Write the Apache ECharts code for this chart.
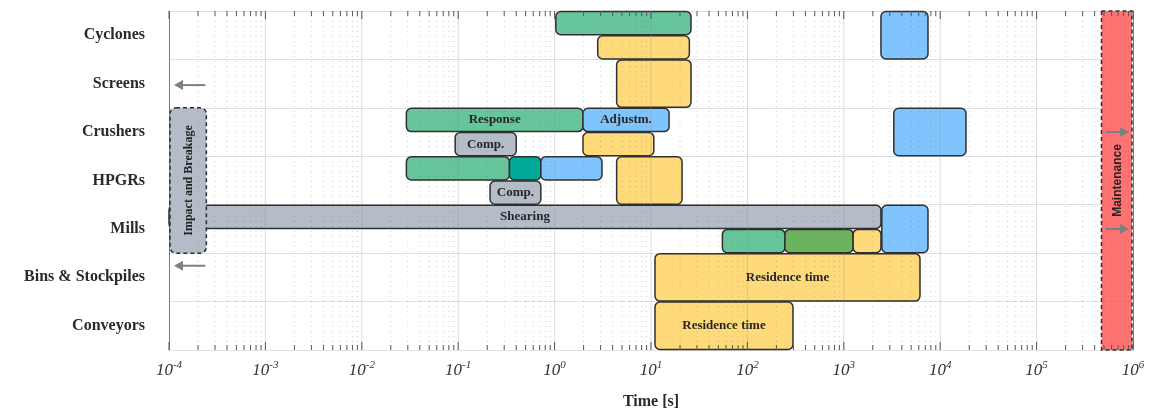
<!DOCTYPE html>
<html>
<head>
<meta charset="utf-8">
<script src="https://cdn.jsdelivr.net/npm/echarts@6/dist/echarts.min.js"></script>
<style>
  html, body { margin: 0; padding: 0; background: #fff; }
  #main { width: 1149px; height: 416px; }
</style>
</head>
<body>
<div id="main"></div>
<script>
var categories = ['Cyclones', 'Screens', 'Crushers', 'HPGRs', 'Mills', 'Bins & Stockpiles', 'Conveyors'];

// [category index, start (s), end (s), lane (0 = whole row, 1 = upper half, 2 = lower half), label]
var responseBars = [
    [0, 1.03, 26, 1, ''],
    [2, 0.029, 1.97, 1, 'Response'],
    [3, 0.029, 0.34, 1, ''],
    [4, 55, 245, 2, '']
];
var overlapBars = [
    [3, 0.34, 0.72, 1, '']
];
var processBars = [
    [4, 245, 1250, 2, '']
];
var adjustBars = [
    [0, 2430, 7470, 0, ''],
    [2, 1.97, 15.4, 1, 'Adjustm.'],
    [2, 3300, 18500, 0, ''],
    [3, 0.72, 3.1, 1, ''],
    [4, 2480, 7470, 0, '']
];
var residenceBars = [
    [0, 2.8, 25, 2, ''],
    [1, 4.4, 26, 0, ''],
    [2, 1.97, 10.7, 2, ''],
    [3, 4.4, 21, 0, ''],
    [4, 1250, 2430, 2, ''],
    [5, 11, 6170, 0, 'Residence time'],
    [6, 11, 297, 0, 'Residence time']
];
var breakageBars = [
    [2, 0.093, 0.40, 2, 'Comp.'],
    [3, 0.214, 0.72, 2, 'Comp.'],
    [4, 1e-4, 2430, 1, 'Shearing']
];
// [first category, last category, start (s), end (s), label]
var impactZone = [[2, 4, 1e-4, 2.5e-4, 'Impact and Breakage']];
var maintenanceZone = [[0, 6, 4.6e5, 1e6, 'Maintenance']];

var xMin = 1e-4, xMax = 1e6;

// grid positions of the log axis (decades and their 2..9 subdivisions)
var gridValues = [];
for (var k = -4; k <= 6; k++) {
    for (var m = 1; m < 10; m++) {
        if (k === 6 && m > 1) break;
        gridValues.push([m * Math.pow(10, k), m === 1 ? 1 : 0]);
    }
}

var serifBold = 'bold 13px "Liberation Serif", "Times New Roman", serif';

function bandHeight(api, x, cat) {
    return Math.abs(api.coord([x, cat + 1])[1] - api.coord([x, cat])[1]);
}

function barRenderer(fill) {
    return function (params, api) {
        var cat = api.value(0);
        var p0 = api.coord([api.value(1), cat]);
        var p1 = api.coord([api.value(2), cat]);
        var h = bandHeight(api, api.value(1), cat);
        var lane = api.value(3);
        var top = p0[1] - h / 2;
        var bh = h;
        if (lane === 1) { bh = h / 2; }
        else if (lane === 2) { top = p0[1]; bh = h / 2; }
        var label = api.value(4);
        return {
            type: 'rect',
            shape: { x: p0[0], y: top + 0.5, width: p1[0] - p0[0], height: bh - 1, r: 5 },
            style: { fill: fill, stroke: '#2f2f2f', lineWidth: 1.5 },
            textContent: label ? {
                style: { text: label, font: serifBold, fill: '#262626' }
            } : undefined,
            textConfig: { position: 'inside' }
        };
    };
}

function arrow(x1, x2, y) {
    var dir = x2 > x1 ? 1 : -1;
    return {
        type: 'group',
        children: [
            { type: 'line', shape: { x1: x1, y1: y, x2: x2 - dir * 6, y2: y }, style: { stroke: '#7f7f7f', lineWidth: 2 } },
            { type: 'polygon', shape: { points: [[x2, y], [x2 - dir * 9, y - 5], [x2 - dir * 9, y + 5]] }, style: { fill: '#7f7f7f' } }
        ]
    };
}

function zoneRenderer(fill, font, arrowsOutside) {
    return function (params, api) {
        var c0 = api.value(0), c1 = api.value(1);
        var x0 = api.value(2), x1 = api.value(3);
        var h = bandHeight(api, x0, c0);
        var left = api.coord([x0, c0])[0];
        var right = api.coord([x1, c0])[0];
        var top = api.coord([x0, c0])[1] - h / 2;
        var bottom = api.coord([x0, c1])[1] + h / 2;
        var children = [{
            type: 'rect',
            shape: { x: left + 1, y: top, width: right - left - 2, height: bottom - top, r: arrowsOutside ? 6 : 0 },
            style: { fill: fill, stroke: '#2f2f2f', lineWidth: 1.5, lineDash: [4, 3] }
        }, {
            type: 'text',
            x: (left + right) / 2 + 1,
            y: (top + bottom) / 2,
            rotation: Math.PI / 2,
            style: { text: api.value(4), font: font, fill: '#222', align: 'center', verticalAlign: 'middle' }
        }];
        if (arrowsOutside) {
            children.push(arrow(right - 2, left + 5, top - h * 0.47));
            children.push(arrow(right - 2, left + 5, bottom + h * 0.26));
        } else {
            children.push(arrow(left + 5, right - 4, api.coord([x0, 2])[1]));
            children.push(arrow(left + 5, right - 4, api.coord([x0, 4])[1]));
        }
        return { type: 'group', children: children };
    };
}

function barSeries(name, data, fill) {
    return {
        name: name,
        type: 'custom',
        renderItem: barRenderer(fill),
        encode: { x: [1, 2], y: 0 },
        data: data,
        z: 3
    };
}

var myChart = echarts.init(document.getElementById('main'));

var axisLineStyle = { color: '#7a7a7a', width: 1 };

option = {
    animation: false,
    grid: { left: 169, right: 16, top: 11, bottom: 66 },
    xAxis: [{
        type: 'log',
        logBase: 10,
        min: xMin,
        max: xMax,
        interval: 1,
        splitNumber: 10,
        name: 'Time [s]',
        nameLocation: 'middle',
        nameGap: 44,
        nameTextStyle: { fontFamily: 'Liberation Serif', fontWeight: 'bold', fontSize: 16, color: '#2a2a2a' },
        axisLine: { lineStyle: axisLineStyle },
        axisTick: { show: false },
        splitLine: { show: false },
        axisLabel: {
            margin: 10,
            formatter: function (v) {
                var e = Math.round(Math.log10(v));
                return '{b|10}{s|' + e + '}';
            },
            rich: {
                b: { fontFamily: 'Liberation Serif', fontStyle: 'italic', fontSize: 17, lineHeight: 22, color: '#333' },
                s: { fontFamily: 'Liberation Serif', fontStyle: 'italic', fontSize: 11, lineHeight: 12, verticalAlign: 'top', color: '#333' }
            }
        }
    }, {
        type: 'log',
        logBase: 10,
        position: 'top',
        min: xMin,
        max: xMax,
        interval: 1,
        splitNumber: 10,
        axisLine: { lineStyle: axisLineStyle },
        axisTick: { show: false },
        axisLabel: { show: false },
        splitLine: { show: false }
    }],
    yAxis: [{
        type: 'category',
        data: categories,
        inverse: true,
        axisLine: { lineStyle: axisLineStyle },
        axisTick: { inside: true, length: 8, lineStyle: { color: '#555' } },
        splitLine: { show: true, lineStyle: { color: '#e2e2e2' } },
        axisLabel: {
            margin: 24,
            fontFamily: 'Liberation Serif',
            fontWeight: 'bold',
            fontSize: 16,
            color: '#2a2a2a'
        }
    }, {
        type: 'category',
        data: categories,
        inverse: true,
        position: 'right',
        axisLine: { lineStyle: axisLineStyle },
        axisTick: { inside: true, length: 8, lineStyle: { color: '#555' } },
        axisLabel: { show: false },
        splitLine: { show: false }
    }],
    series: [
        barSeries('Response', responseBars, '#66c59a'),
        barSeries('Overlap', overlapBars, '#00a99a'),
        barSeries('Process', processBars, '#6cb35d'),
        barSeries('Adjustment', adjustBars, '#80c4fd'),
        barSeries('Residence', residenceBars, '#ffda7b'),
        barSeries('Breakage', breakageBars, '#b3bcc7'),
        {
            name: 'Impact',
            type: 'custom',
            renderItem: zoneRenderer('#b3bcc7', 'bold 12px "Liberation Serif", "Times New Roman", serif', true),
            encode: { x: [2, 3], y: 0 },
            data: impactZone,
            z: 4
        },
        {
            name: 'Maintenance',
            type: 'custom',
            renderItem: zoneRenderer('rgba(255, 95, 95, 0.88)', 'bold 12px "Liberation Sans", Arial, sans-serif', false),
            encode: { x: [2, 3], y: 0 },
            data: maintenanceZone,
            z: 4
        },
        {
            name: 'logGrid',
            type: 'custom',
            silent: true,
            renderItem: function (params, api) {
                var cs = params.coordSys;
                var x = api.coord([api.value(0), 0])[0];
                var major = api.value(1) === 1;
                var tick = major ? 8 : 5;
                var children = [];
                if (x > cs.x + 1 && x < cs.x + cs.width - 1) {
                    children.push({
                        type: 'line',
                        shape: { x1: x, y1: cs.y, x2: x, y2: cs.y + cs.height },
                        style: major
                            ? { stroke: 'rgba(140,140,140,0.3)', lineWidth: 1 }
                            : { stroke: 'rgba(120,120,120,0.35)', lineWidth: 1, lineDash: [1, 4] }
                    });
                }
                children.push({ type: 'line', shape: { x1: x, y1: cs.y, x2: x, y2: cs.y + tick }, style: { stroke: '#555', lineWidth: 1 } });
                children.push({ type: 'line', shape: { x1: x, y1: cs.y + cs.height - tick, x2: x, y2: cs.y + cs.height }, style: { stroke: '#555', lineWidth: 1 } });
                return { type: 'group', children: children };
            },
            encode: { x: 0 },
            data: gridValues,
            z: 5
        }
    ]
};
myChart.setOption(option);
</script>
</body>
</html>
